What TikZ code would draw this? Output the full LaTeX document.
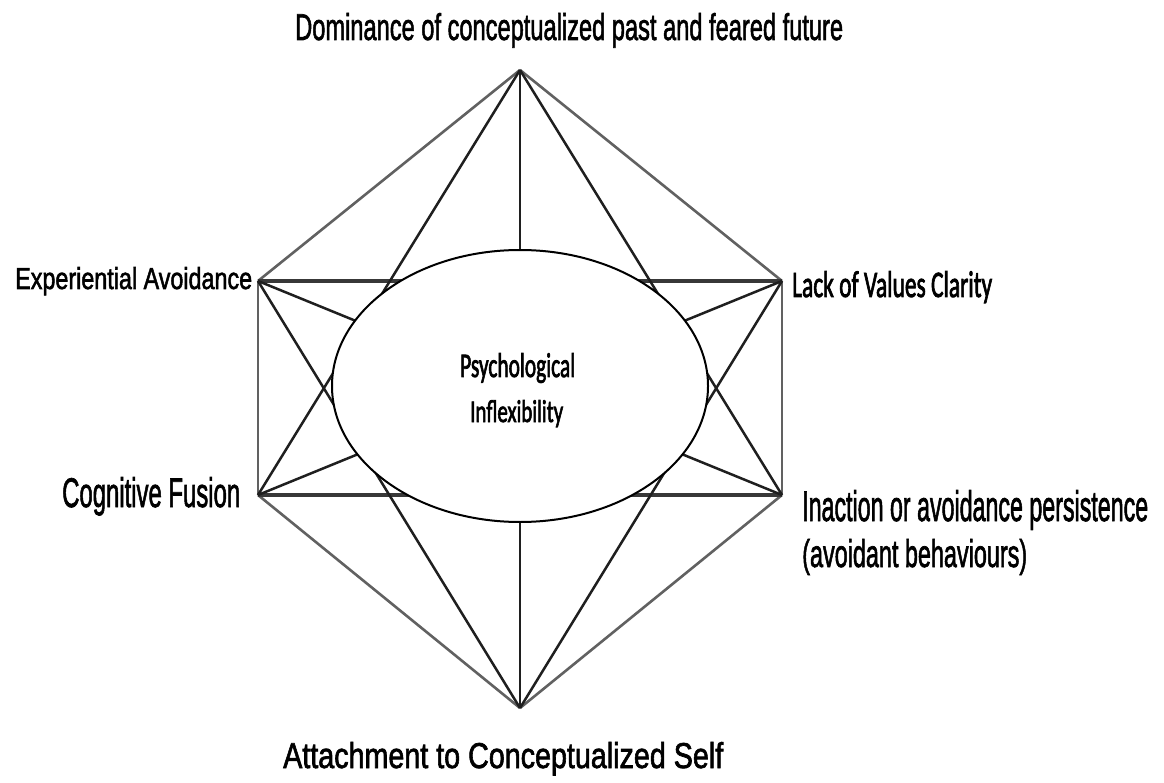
\documentclass[tikz,border=0pt]{standalone}
\usepackage{fontspec}
\setmainfont{Liberation Sans}[FakeBold=2]
\newfontfamily\calfont{Carlito}[FakeBold=2.5]
\usepackage{graphicx}
\usetikzlibrary{shapes.geometric}
\tikzset{
  side/.style={line width=2.6pt, black!62},
  bar/.style={line width=3.6pt, black!78},
  spoke/.style={line width=2.5pt, black!88},
  lbl/.style={anchor=base west, inner sep=0pt}
}

\begin{document}
\begin{tikzpicture}[x=1pt, y=-1pt]
    \useasboundingbox (0,0) rectangle (1164,783);
    \coordinate (top) at (520,70);
    \coordinate (ul) at (258,281);
    \coordinate (ur) at (782,281);
    \coordinate (ll) at (258,495);
    \coordinate (lr) at (782,495);
    \coordinate (bot) at (520,708);
    % outer hexagon
    \draw[side] (top) -- (ul);
    \draw[side] (top) -- (ur);
    \draw[side] (ul) -- (ll);
    \draw[side] (ur) -- (lr);
    \draw[side] (ll) -- (bot);
    \draw[side] (lr) -- (bot);
    % cross bars
    \draw[bar] (ul) -- (ur);
    \draw[bar] (ll) -- (lr);
    % inner lines
    \draw[spoke] (top) -- (bot);
    \draw[spoke] (top) -- (ll);
    \draw[spoke] (top) -- (lr);
    \draw[spoke] (bot) -- (ul);
    \draw[spoke] (bot) -- (ur);
    \draw[spoke] (ul) -- (lr);
    \draw[spoke] (ll) -- (ur);
    % centre
    \node[ellipse, draw, line width=2pt, fill=white, inner sep=0pt,
          minimum width=376pt, minimum height=272pt] (core) at (520,386) {};
    \node[lbl] (psyLbl) at (460,377) {\resizebox{115pt}{24pt}{\calfont Psychological}};
    \node[lbl] (inflLbl) at (470,422) {\resizebox{93pt}{22pt}{\calfont Inflexibility}};
    % labels
    \node[lbl] (domLbl) at (295,40) {\resizebox{548pt}{27pt}{Dominance of conceptualized past and feared future}};
    \node[lbl] (expLbl) at (15,289) {\resizebox{237pt}{22pt}{Experiential Avoidance}};
    \node[lbl] (lackLbl) at (792,297) {\resizebox{200pt}{26pt}{\calfont Lack of Values Clarity}};
    \node[lbl] (cogLbl) at (62,507) {\resizebox{178pt}{30pt}{Cognitive Fusion}};
    \node[lbl] (inactLbl) at (802,521) {\resizebox{346pt}{31pt}{Inaction or avoidance persistence}};
    \node[lbl] (behLbl) at (802,567) {\resizebox{225pt}{28pt}{(avoidant behaviours)}};
    \node[lbl] (attLbl) at (283,768) {\resizebox{440pt}{26pt}{Attachment to Conceptualized Self}};
  \end{tikzpicture}
\end{document}
